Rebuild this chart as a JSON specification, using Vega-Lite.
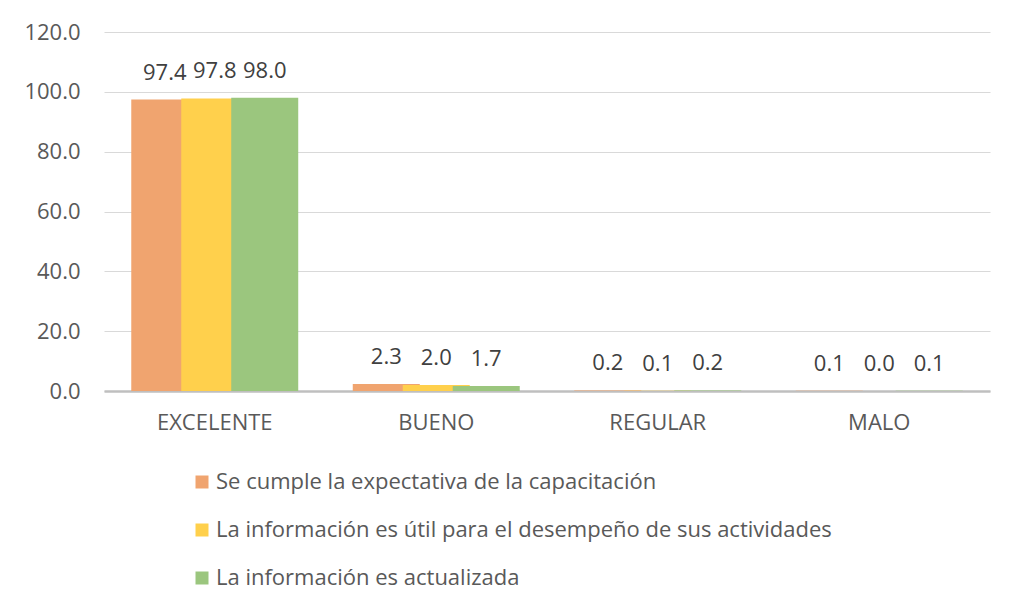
{
  "$schema": "https://vega.github.io/schema/vega-lite/v6.json",
  "width": 886,
  "height": 359,
  "autosize": "none",
  "padding": {"left": 104, "top": 32, "right": 34, "bottom": 224},
  "background": "#ffffff",
  "config": {
    "font": "Open Sans",
    "view": {"stroke": null},
    "axis": {"labelColor": "#595959", "labelFontSize": 22, "ticks": false, "title": null}
  },
  "data": {
    "values": [
      {"nivel": "EXCELENTE", "serie": "Se cumple la expectativa de la capacitación", "valor": 97.4},
      {"nivel": "EXCELENTE", "serie": "La información es útil para el desempeño de sus actividades", "valor": 97.8},
      {"nivel": "EXCELENTE", "serie": "La información es actualizada", "valor": 98.0},
      {"nivel": "BUENO", "serie": "Se cumple la expectativa de la capacitación", "valor": 2.3},
      {"nivel": "BUENO", "serie": "La información es útil para el desempeño de sus actividades", "valor": 2.0},
      {"nivel": "BUENO", "serie": "La información es actualizada", "valor": 1.7},
      {"nivel": "REGULAR", "serie": "Se cumple la expectativa de la capacitación", "valor": 0.2},
      {"nivel": "REGULAR", "serie": "La información es útil para el desempeño de sus actividades", "valor": 0.1},
      {"nivel": "REGULAR", "serie": "La información es actualizada", "valor": 0.2},
      {"nivel": "MALO", "serie": "Se cumple la expectativa de la capacitación", "valor": 0.1},
      {"nivel": "MALO", "serie": "La información es útil para el desempeño de sus actividades", "valor": 0.0},
      {"nivel": "MALO", "serie": "La información es actualizada", "valor": 0.1}
    ]
  },
  "encoding": {
    "x": {
      "field": "nivel",
      "type": "nominal",
      "sort": ["EXCELENTE", "BUENO", "REGULAR", "MALO"],
      "scale": {"paddingInner": 0.323, "paddingOuter": 0.1615},
      "axis": {"labelAngle": 0, "domainColor": "#BFBFBF", "domainWidth": 2.5, "labelPadding": 21, "grid": false}
    },
    "xOffset": {
      "field": "serie",
      "type": "nominal",
      "sort": [
        "Se cumple la expectativa de la capacitación",
        "La información es útil para el desempeño de sus actividades",
        "La información es actualizada"
      ],
      "scale": {"paddingInner": 0, "paddingOuter": 0}
    },
    "y": {
      "field": "valor",
      "type": "quantitative",
      "scale": {"domain": [0, 120]},
      "axis": {"values": [0, 20, 40, 60, 80, 100, 120], "format": ".1f", "domain": false, "gridColor": "#D9D9D9", "labelPadding": 24}
    }
  },
  "layer": [
    {
      "mark": {"type": "bar", "width": 67},
      "encoding": {
        "color": {
          "field": "serie",
          "type": "nominal",
          "sort": [
            "Se cumple la expectativa de la capacitación",
            "La información es útil para el desempeño de sus actividades",
            "La información es actualizada"
          ],
          "scale": {"range": ["#F0A46F", "#FFD04C", "#9BC67E"]},
          "legend": {
            "title": null,
            "orient": "none",
            "legendX": 87,
            "legendY": 439,
            "direction": "vertical",
            "symbolType": "square",
            "symbolSize": 169,
            "symbolStrokeWidth": 0,
            "labelFontSize": 22,
            "labelColor": "#595959",
            "labelLimit": 800,
            "labelOffset": 3,
            "rowPadding": 26
          }
        }
      }
    },
    {
      "mark": {"type": "text", "baseline": "bottom", "dy": -15, "fontSize": 22, "color": "#404040"},
      "encoding": {
        "text": {"field": "valor", "type": "quantitative", "format": ".1f"}
      }
    }
  ]
}
